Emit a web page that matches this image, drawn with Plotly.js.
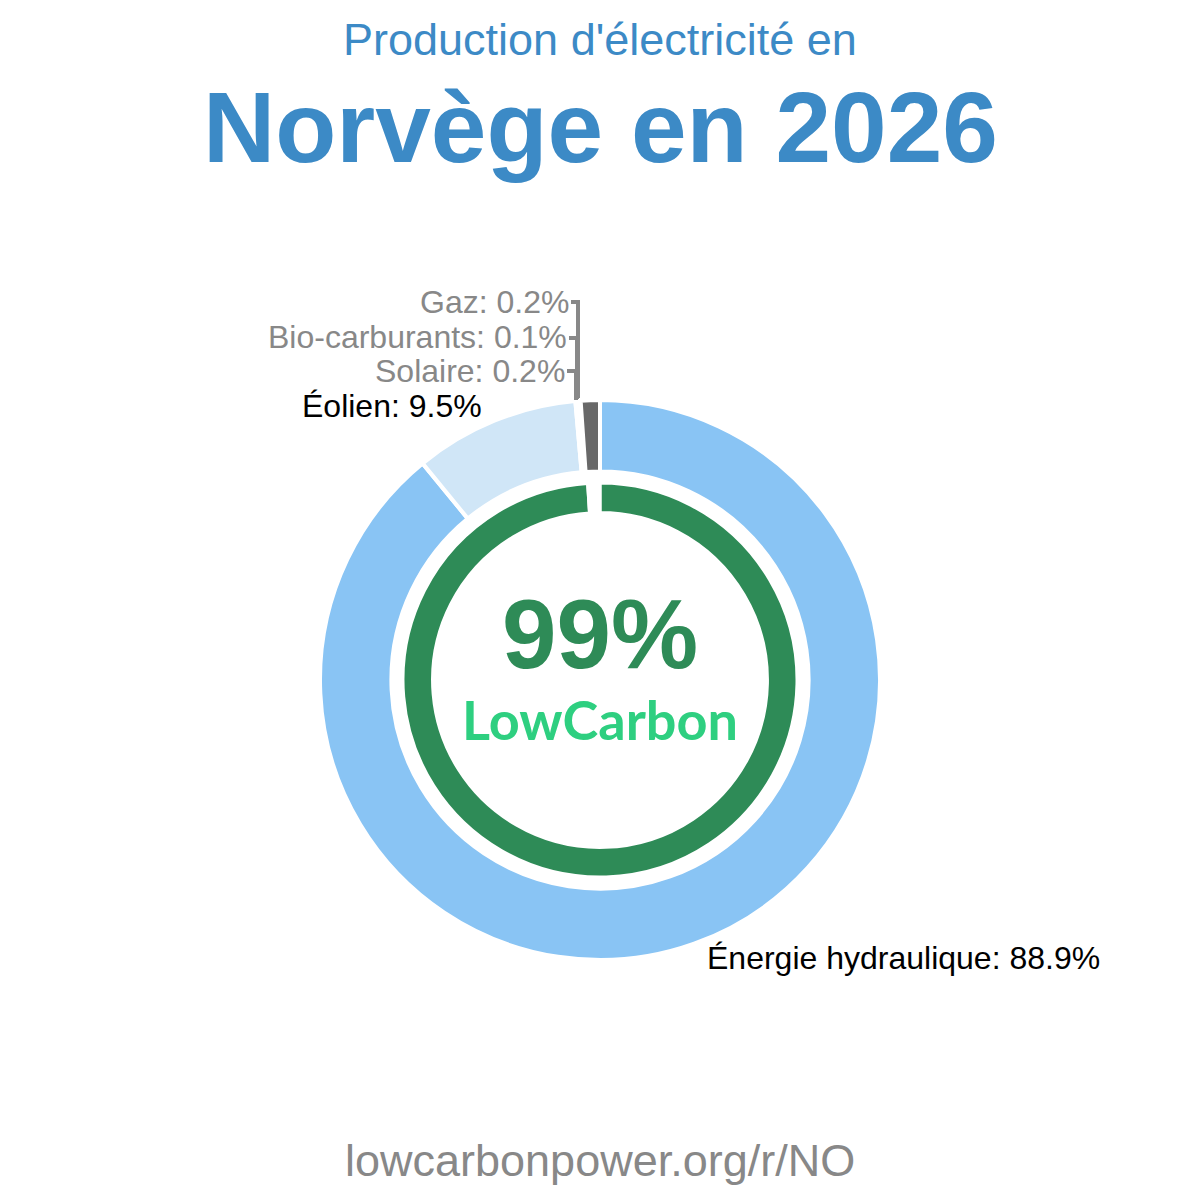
<!DOCTYPE html>
<html><head><meta charset="utf-8">
<script src="https://cdn.plot.ly/plotly-3.0.1.min.js"></script>
<style>html,body{margin:0;padding:0;background:#fff}#chart{width:1200px;height:1200px}</style>
</head><body><div id="chart"></div>
<script>
// Outer ring: sources (clockwise from 12 o'clock)
const sources = ["Énergie hydraulique", "Éolien", "Solaire", "Bio-carburants", "Gaz"];
const sourceValues = [88.9, 9.5, 0.2, 0.1, 1.1];
const sourceLabels = ["88.9%", "9.5%", "0.2%", "0.1%", "0.2%"];
const sourceColors = ["#89c4f4", "#d0e6f7", "#ffffff", "#ffffff", "#686868"];
// Inner ring: low carbon vs fossil
const groups = ["Bas carbone", "Fossile"];
const groupValues = [99, 1];
const groupColors = ["#2e8b57", "#ffffff"];
const lowCarbonText = "99%";

const W = 1200, H = 1200;
const px = x => x / W, py = y => 1 - y / H;

const outer = {
  type: "pie", values: sourceValues, labels: sources, sort: false, direction: "clockwise",
  rotation: 0, hole: 0.745, textinfo: "none", hoverinfo: "none",
  marker: {colors: sourceColors, line: {color: "#ffffff", width: 4}},
  domain: {x: [px(320), px(880)], y: [py(960), py(400)]}, showlegend: false
};
const inner = {
  type: "pie", values: groupValues, labels: groups, sort: false, direction: "clockwise",
  rotation: 0, hole: 0.85, textinfo: "none", hoverinfo: "none",
  marker: {colors: groupColors, line: {color: "#ffffff", width: 3}},
  domain: {x: [px(403), px(797)], y: [py(877), py(483)]}, showlegend: false
};

const gray = "#888888";
const ann = [
  {text: "Production d'électricité en", x: 0.5, y: py(40), font: {size: 45, color: "#3c8ac6"}},
  {text: "<b>Norvège en 2026</b>", x: 0.5, y: py(127), font: {size: 100, color: "#3c8ac6"}},
  {text: "<b>" + lowCarbonText + "</b>", x: 0.5, y: py(634), font: {size: 98, color: "#2e8b57"}},
  {text: "<b>LowCarbon</b>", x: 0.5, y: py(719), font: {size: 54, color: "#2ecf80", family: "Lato, Nunito, sans-serif"}},
  {text: "lowcarbonpower.org/r/NO", x: 0.5, y: py(1160), font: {size: 45, color: gray}},
  {text: sources[4] + ": " + sourceLabels[4], x: px(571), y: py(302), xanchor: "right", font: {size: 32, color: gray}},
  {text: sources[3] + ": " + sourceLabels[3], x: px(569), y: py(337), xanchor: "right", font: {size: 32, color: gray}},
  {text: sources[2] + ": " + sourceLabels[2], x: px(567), y: py(371), xanchor: "right", font: {size: 32, color: gray}},
  {text: sources[1] + ": " + sourceLabels[1], x: px(484), y: py(406), xanchor: "right", font: {size: 32, color: "#000000"}},
  {text: sources[0] + ": " + sourceLabels[0], x: px(705), y: py(958), xanchor: "left", font: {size: 32, color: "#000000"}}
].map(a => Object.assign({xref: "paper", yref: "paper", showarrow: false, xanchor: "center", yanchor: "middle"}, a,
  {font: Object.assign({family: "Liberation Sans, Arial"}, a.font)}));

const lineStyle = {color: gray, width: 4};
const shapes = [
  {type: "path", path: `M ${px(571)} ${py(302)} L ${px(578)} ${py(302)} L ${px(578)} ${py(398)}`},
  {type: "path", path: `M ${px(569)} ${py(338)} L ${px(577)} ${py(338)} L ${px(577)} ${py(399)}`},
  {type: "path", path: `M ${px(567)} ${py(371)} L ${px(576)} ${py(371)} L ${px(576)} ${py(400)}`}
].map(s => Object.assign({xref: "paper", yref: "paper", line: lineStyle}, s));

Plotly.newPlot("chart", [outer, inner], {
  width: W, height: H, margin: {l: 0, r: 0, t: 0, b: 0},
  paper_bgcolor: "#ffffff", plot_bgcolor: "#ffffff",
  annotations: ann, shapes: shapes, showlegend: false
}, {staticPlot: true, displayModeBar: false});
</script></body></html>
